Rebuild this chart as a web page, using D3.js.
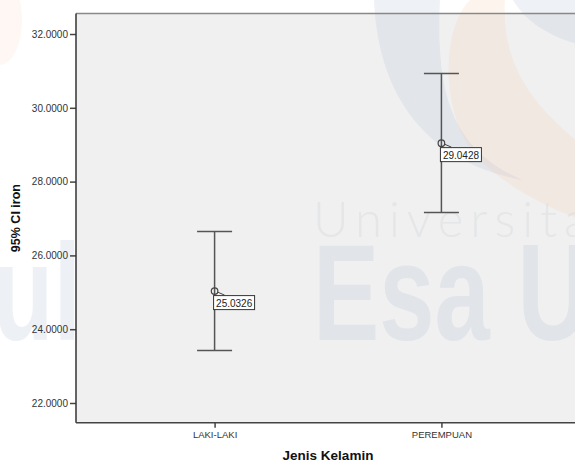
<!DOCTYPE html>
<html>
<head>
<meta charset="utf-8">
<script src="https://cdn.jsdelivr.net/npm/d3@7"></script>
<style>
  html, body { margin: 0; padding: 0; background: #ffffff; }
  svg { display: block; }
</style>
</head>
<body>
<svg id="chart" width="575" height="465"></svg>
<script>
// ---- data ----
const categories = ["LAKI-LAKI", "PEREMPUAN"];
const means = [25.0326, 29.0428];
const lowerCI = [23.42, 27.16];
const upperCI = [26.65, 30.93];
const yTicks = [22, 24, 26, 28, 30, 32];
const yTitle = "95% CI iron";
const xTitle = "Jenis Kelamin";

// ---- layout ----
const W = 575, H = 465;
const plot = { left: 76, right: 580, top: 13.5, bottom: 422.7 };
const svg = d3.select("#chart");

const y = d3.scaleLinear().domain([21.466, 32.556]).range([plot.bottom, plot.top]);
const x = d3.scalePoint().domain(categories).range([plot.left, plot.right]).padding(0.611);

svg.append("rect").attr("x", 0).attr("y", 0).attr("width", W).attr("height", H).attr("fill", "#ffffff");
svg.append("rect")
  .attr("x", plot.left).attr("y", plot.top)
  .attr("width", plot.right - plot.left).attr("height", plot.bottom - plot.top)
  .attr("fill", "#f0f0f0");

// ---- faint background watermark (decoration) ----
const wm = svg.append("g").attr("pointer-events", "none");
wm.append("path")
  .attr("d", "M374,0 C378,90 420,160 522,180 C455,150 435,100 440,0 Z")
  .attr("fill", "#a8b8d0").attr("opacity", 0.2);
wm.append("path")
  .attr("d", "M470,0 C440,30 440,120 480,160 C510,190 560,215 600,225 L600,160 C550,120 500,80 505,0 Z")
  .attr("fill", "#f8c8a8").attr("opacity", 0.2);
wm.append("path")
  .attr("d", "M513,0 C525,20 545,35 580,45 L580,0 Z")
  .attr("fill", "#a8b8d0").attr("opacity", 0.2);
wm.append("ellipse").attr("cx", 0).attr("cy", 20).attr("rx", 22).attr("ry", 45)
  .attr("fill", "#f8c8a8").attr("opacity", 0.14);
wm.append("text")
  .attr("x", 313).attr("y", 237)
  .attr("font-family", "Lato, 'Liberation Sans', sans-serif")
  .attr("font-weight", 300)
  .attr("font-size", 49)
  .attr("letter-spacing", 7)
  .attr("fill", "#b8c0cc").attr("opacity", 0.2)
  .text("Universitas");
wm.append("text")
  .attr("transform", "translate(313,339.5) scale(0.72,1)")
  .attr("font-family", "'Liberation Sans', Arial, sans-serif")
  .attr("font-weight", "bold")
  .attr("font-size", 138)
  .attr("fill", "#a8b8d0").attr("opacity", 0.2)
  .text("Esa Unggul");
wm.append("text")
  .attr("transform", "translate(81,339.5) scale(0.72,1)")
  .attr("text-anchor", "end")
  .attr("font-family", "'Liberation Sans', Arial, sans-serif")
  .attr("font-weight", "bold")
  .attr("font-size", 138)
  .attr("fill", "#a8b8d0").attr("opacity", 0.2)
  .text("Esa Unggul");

// ---- axes ----
const yAxis = d3.axisLeft(y).tickValues(yTicks).tickSize(6).tickSizeOuter(0)
  .tickFormat(d3.format(".4f"));
const gy = svg.append("g").attr("transform", `translate(${plot.left},0)`).call(yAxis);
gy.select(".domain").remove();
gy.selectAll(".tick line").attr("stroke", "#444").attr("stroke-width", 1.5);
gy.selectAll(".tick text")
  .attr("x", -8)
  .attr("font-family", "'Liberation Sans', Arial, sans-serif")
  .attr("font-size", 10)
  .attr("fill", "#333");

const xAxis = d3.axisBottom(x).tickSize(5).tickSizeOuter(0);
const gx = svg.append("g").attr("transform", `translate(0,${plot.bottom})`).call(xAxis);
gx.select(".domain").remove();
gx.selectAll(".tick line").attr("stroke", "#444").attr("stroke-width", 1.5);
gx.selectAll(".tick text")
  .attr("y", 9)
  .attr("font-family", "'Liberation Sans', Arial, sans-serif")
  .attr("font-size", 9.5)
  .attr("fill", "#333");

// frame lines
svg.append("line").attr("x1", plot.left).attr("x2", plot.right)
  .attr("y1", plot.top).attr("y2", plot.top)
  .attr("stroke", "#888").attr("stroke-width", 1.5);
svg.append("line").attr("x1", plot.left).attr("x2", plot.left)
  .attr("y1", plot.top).attr("y2", plot.bottom)
  .attr("stroke", "#333").attr("stroke-width", 1.5);
svg.append("line").attr("x1", plot.left).attr("x2", plot.right)
  .attr("y1", plot.bottom).attr("y2", plot.bottom)
  .attr("stroke", "#444").attr("stroke-width", 1.5);

// ---- error bars ----
const rows = categories.map((c, i) => ({ cat: c, mean: means[i], lo: lowerCI[i], hi: upperCI[i] }));
const capHalf = 17.5;
const bars = svg.append("g").selectAll("g").data(rows).join("g");
bars.append("line")
  .attr("x1", d => x(d.cat)).attr("x2", d => x(d.cat))
  .attr("y1", d => y(d.hi)).attr("y2", d => y(d.lo))
  .attr("stroke", "#555").attr("stroke-width", 1.5);
bars.append("line")
  .attr("x1", d => x(d.cat) - capHalf).attr("x2", d => x(d.cat) + capHalf)
  .attr("y1", d => y(d.hi)).attr("y2", d => y(d.hi))
  .attr("stroke", "#555").attr("stroke-width", 1.5);
bars.append("line")
  .attr("x1", d => x(d.cat) - capHalf).attr("x2", d => x(d.cat) + capHalf)
  .attr("y1", d => y(d.lo)).attr("y2", d => y(d.lo))
  .attr("stroke", "#555").attr("stroke-width", 1.5);
bars.append("line")
  .attr("x1", d => x(d.cat) + 3).attr("x2", d => x(d.cat) + 10)
  .attr("y1", d => y(d.mean) + 1).attr("y2", d => y(d.mean) + 4)
  .attr("stroke", "#444").attr("stroke-width", 1);
bars.append("circle")
  .attr("cx", d => x(d.cat)).attr("cy", d => y(d.mean)).attr("r", 3.3)
  .attr("fill", "none").attr("stroke", "#444").attr("stroke-width", 1.2);
bars.append("rect")
  .attr("x", d => x(d.cat) - 1).attr("y", d => y(d.mean) + 4.5)
  .attr("width", 41).attr("height", 14)
  .attr("fill", "#ffffff").attr("stroke", "#333").attr("stroke-width", 1);
bars.append("text")
  .attr("x", d => x(d.cat) + 1.5).attr("y", d => y(d.mean) + 15.5)
  .attr("font-family", "'Liberation Sans', Arial, sans-serif")
  .attr("font-size", 10)
  .attr("fill", "#222")
  .text(d => d3.format(".4f")(d.mean));

// ---- titles ----
svg.append("text")
  .attr("transform", `translate(20,${(plot.top + plot.bottom) / 2}) rotate(-90)`)
  .attr("text-anchor", "middle")
  .attr("font-family", "'Liberation Sans', Arial, sans-serif")
  .attr("font-weight", "bold")
  .attr("font-size", 12.5)
  .attr("fill", "#111")
  .text(yTitle);
svg.append("text")
  .attr("x", (plot.left + plot.right) / 2).attr("y", 460)
  .attr("text-anchor", "middle")
  .attr("font-family", "'Liberation Sans', Arial, sans-serif")
  .attr("font-weight", "bold")
  .attr("font-size", 13.5)
  .attr("fill", "#111")
  .text(xTitle);
</script>
</body>
</html>
